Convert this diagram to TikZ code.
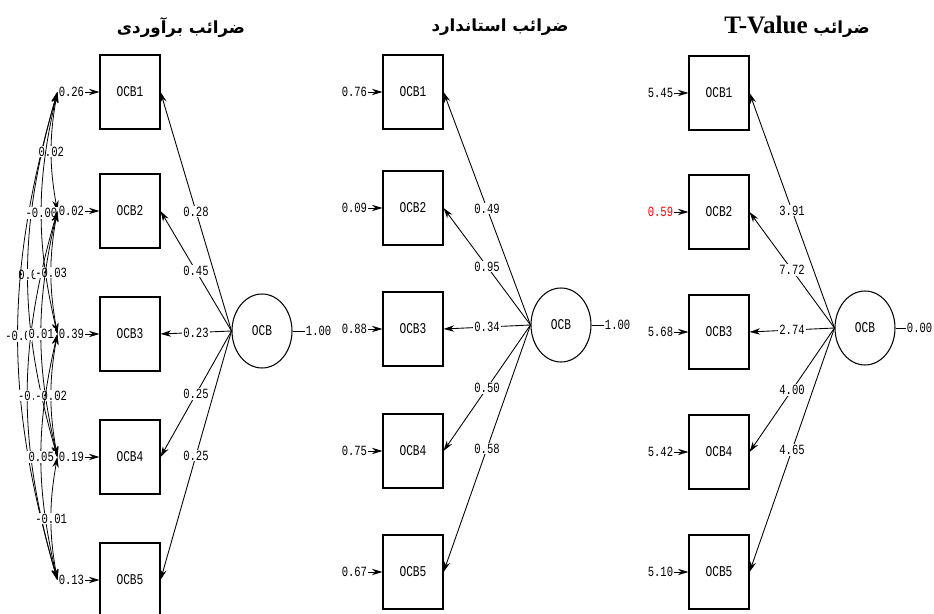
\documentclass[tikz,border=0pt]{standalone}
\usepackage{fontspec}
\setmonofont{Liberation Mono}[FakeStretch=0.75]
\newfontfamily\arabicfont[Script=Arabic]{DejaVu Sans}
\newfontfamily\latinbold{Liberation Serif}
\TeXXeTstate=1
\usepackage{tikz}
\usetikzlibrary{arrows.meta,positioning,shapes.geometric}

\begin{document}
\begin{tikzpicture}[x=0.02cm,y=-0.02cm,
  var/.style={draw,line width=0.6pt,minimum width=1.2cm,minimum height=1.48cm,inner sep=0pt,font=\ttfamily\fontsize{8.5}{9}\selectfont},
  lat/.style={draw,ellipse,line width=0.6pt,minimum width=1.2cm,minimum height=1.48cm,inner sep=0pt,font=\ttfamily\fontsize{8.5}{9}\selectfont},
  num/.style={inner sep=0.6pt,font=\ttfamily\fontsize{8}{9}\selectfont},
  lbl/.style={num,fill=white,pos=0.5},
  load/.style={-{Stealth[length=6pt,width=3.6pt]},line width=0.5pt},
  cov/.style={{Stealth[length=6pt,width=3.6pt]}-{Stealth[length=6pt,width=3.6pt]},line width=0.45pt},
  title/.style={font=\arabicfont\bfseries\fontsize{9.5}{12}\selectfont}]
\useasboundingbox (0,0) rectangle (934,614);

% titles
\node[title] (t1) at (181,28) {\beginR ضرائب برآوردی\endR};
\node[title] (t2) at (500,27) {\beginR ضرائب استاندارد\endR};
\node[title] (t3) at (797,27) {\beginR ضرائب \beginL{\latinbold\fontsize{14.3}{16}\selectfont T-Value}\endL\endR};

% estimates
\foreach \y [count=\i] in {92,211,334,457,580}
  \node[var] (a\i) at (130,\y) {OCB\i};
\node[lat] (la) at (262,331) {OCB};
\foreach \v [count=\i] in {0.26,0.02,0.39,0.19,0.13}{
  \node[num,left=0.28cm of a\i] (ea\i) {\v};
  \draw[load] (ea\i) -- (a\i);
}
\foreach \v [count=\i] in {0.28,0.45,0.23,0.25,0.25}
  \draw[load] (la.west) -- node[lbl]{\v} (a\i.east);
\node[num,right=0.24cm of la] (va) {1.00};
\draw[line width=0.5pt] (la) -- (va);
% error covariances
\draw[cov] (ea1.west) to[bend right=16] node[lbl]{0.0} (ea4.west);
\draw[cov] (ea1.west) to[bend right=16] node[lbl]{-0.0} (ea5.west);
\draw[cov] (ea2.west) to[bend right=16] node[lbl]{-0.} (ea5.west);
\draw[cov] (ea1.west) to[bend right=10] node[lbl]{0.02} (ea2.west);
\draw[cov] (ea1.west) to[bend right=13] node[lbl]{-0.00} (ea3.west);
\draw[cov] (ea2.west) to[bend right=10] node[lbl]{-0.03} (ea3.west);
\draw[cov] (ea2.west) to[bend right=13] node[lbl]{0.01} (ea4.west);
\draw[cov] (ea3.west) to[bend right=10] node[lbl]{-0.02} (ea4.west);
\draw[cov] (ea3.west) to[bend right=13] node[lbl]{0.05} (ea5.west);
\draw[cov] (ea4.west) to[bend right=10] node[lbl]{-0.01} (ea5.west);

% standardized
\foreach \y [count=\i] in {92,208,329,451,572}
  \node[var] (b\i) at (413,\y) {OCB\i};
\node[lat] (lb) at (561,325) {OCB};
\foreach \v [count=\i] in {0.76,0.09,0.88,0.75,0.67}{
  \node[num,left=0.28cm of b\i] (eb\i) {\v};
  \draw[load] (eb\i) -- (b\i);
}
\foreach \v [count=\i] in {0.49,0.95,0.34,0.50,0.58}
  \draw[load] (lb.west) -- node[lbl]{\v} (b\i.east);
\node[num,right=0.24cm of lb] (vb) {1.00};
\draw[line width=0.5pt] (lb) -- (vb);

% t-values
\foreach \y [count=\i] in {93,212,332,452,572}
  \node[var] (c\i) at (719,\y) {OCB\i};
\node[lat] (lc) at (865,328) {OCB};
\foreach \v/\c [count=\i] in {5.45/black,0.59/red,5.68/black,5.42/black,5.10/black}{
  \node[num,text=\c,left=0.28cm of c\i] (ec\i) {\v};
  \draw[load] (ec\i) -- (c\i);
}
\foreach \v [count=\i] in {3.91,7.72,2.74,4.00,4.65}
  \draw[load] (lc.west) -- node[lbl]{\v} (c\i.east);
\node[num,right=0.2cm of lc] (vc) {0.00};
\draw[line width=0.5pt] (lc) -- (vc);
\end{tikzpicture}
\end{document}
